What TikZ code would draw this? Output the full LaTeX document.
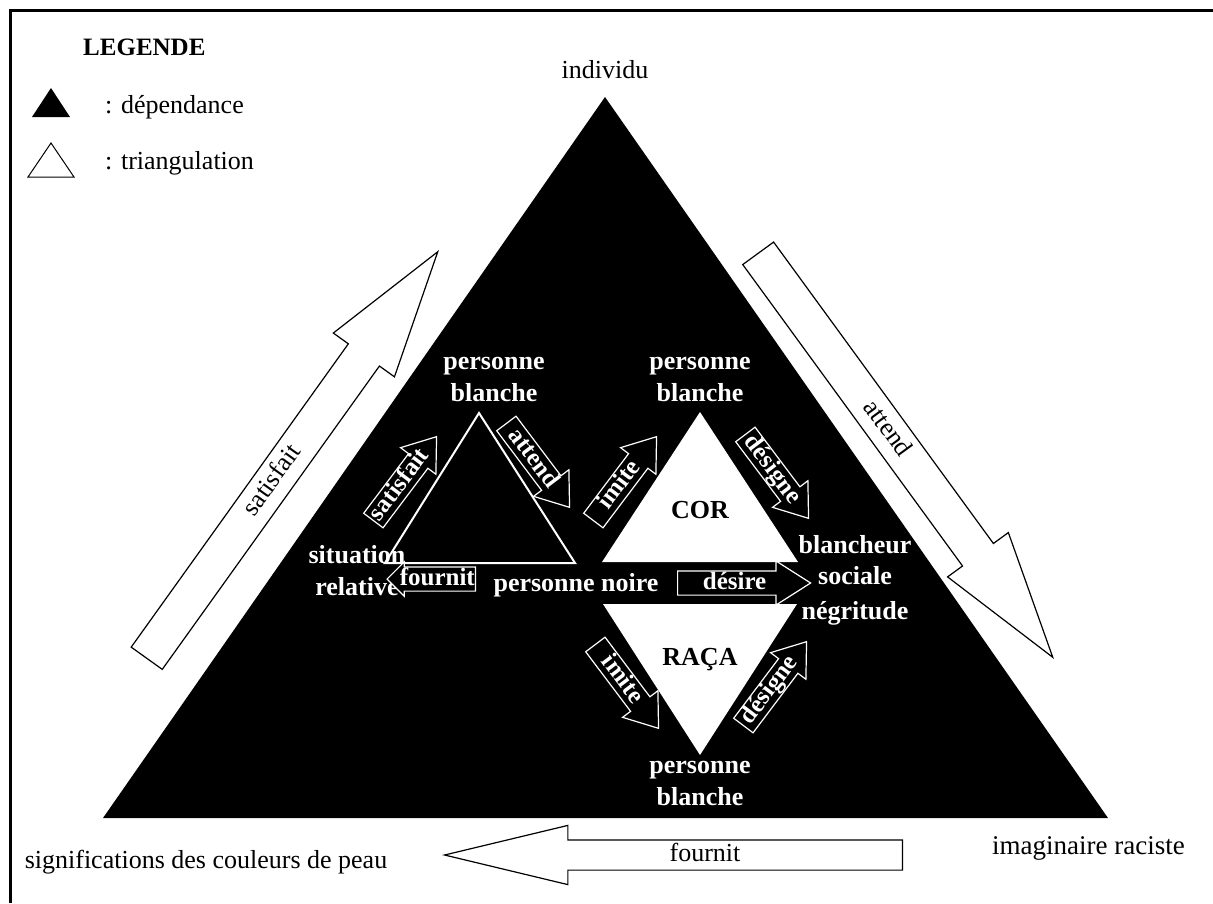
\documentclass[tikz,border=0pt]{standalone}
\usepackage{fontspec}
\setmainfont{Liberation Serif}
\usetikzlibrary{shapes}
\tikzstyle{bigarrow} = [single arrow, draw=black, fill=white, line width=1.2pt, minimum height=500pt, text height=17pt, text depth=5pt, inner ysep=7.5pt, inner xsep=0pt, single arrow head extend=18.5pt, single arrow tip angle=33, font=\fontsize{26}{30}\selectfont]
\tikzstyle{smallarrow} = [single arrow, draw=white, fill=black, text=white, line width=1.2pt, minimum height=105pt, text height=15pt, text depth=3pt, inner ysep=2.5pt, inner xsep=0pt, single arrow head extend=10pt, single arrow tip angle=72, font=\bfseries\fontsize{25}{30}\selectfont]
\tikzstyle{wlabel} = [text=white, align=center, inner sep=0pt, font=\bfseries\fontsize{26}{32}\selectfont]
\tikzstyle{blabel} = [text=black, inner sep=0pt, font=\bfseries\fontsize{26}{30}\selectfont]
\tikzstyle{txt} = [text=black, inner sep=0pt, font=\fontsize{26}{30}\selectfont]

\begin{document}
\begin{tikzpicture}[x=1pt, y=-1pt]
    \useasboundingbox (0,0) rectangle (1213,903);
    \draw[line width=3pt] (10,903) -- (10,10) -- (1213,10);

    % legende
    \node[blabel, anchor=west, font=\bfseries\fontsize{25}{30}\selectfont](legende) at (83,47) {LEGENDE};
    \fill (32,117) -- (51,88) -- (70,117) -- cycle;
    \draw[line width=1pt] (28,177) -- (51,143) -- (74,177) -- cycle;
    \node[txt, anchor=west](dependance) at (105,107) {: dépendance};
    \node[txt, anchor=west](triangulation) at (105,163) {: triangulation};

    % triangle de dependance
    \fill (605,97) -- (103,818) -- (1108,818) -- cycle;
    \node[txt](individu) at (605,70) {individu};
    \node[txt](significations) at (206,862) {significations des couleurs de peau};
    \node[txt, anchor=east, font=\fontsize{27}{30}\selectfont](imaginaire) at (1185,848) {imaginaire raciste};

    \node[bigarrow, rotate=54.4, anchor=tip](satisfait) at (439,250) {satisfait};
    \node[bigarrow, rotate=-53.9, anchor=tip](attend) at (1054,659) {attend};
    \node[bigarrow, shape border rotate=180, anchor=tip, minimum height=458pt, inner ysep=3.5pt, single arrow head extend=14.5pt, single arrow tip angle=27](fournit) at (442,855) {fournit};

    % triangulations
    \draw[white, line width=2pt] (479,413) -- (385,563) -- (575,563) -- cycle;
    \fill[white] (700,412) -- (602,562) -- (798,562) -- cycle;
    \fill[white] (603,604) -- (797,604) -- (700,755) -- cycle;

    \node[wlabel](blanche1) at (494,379) {personne\\blanche};
    \node[wlabel](blanche2) at (700,379) {personne\\blanche};
    \node[wlabel](blanche3) at (700,783) {personne\\blanche};
    \node[wlabel](situation) at (357,571) {situation\\relative};
    \node[wlabel](noire) at (576,585) {personne noire};
    \node[wlabel, font=\bfseries\fontsize{26}{31}\selectfont](blancheur) at (855,580) {blancheur\\sociale\\[4pt]négritude};
    \node[blabel](cor) at (700,510) {COR};
    \node[blabel](raca) at (700,660) {RAÇA};

    \node[smallarrow, rotate=53, anchor=tail](satisfait2) at (373,521) {satisfait};
    \node[smallarrow, rotate=-53, anchor=tail](attend2) at (506,423) {attend};
    \node[smallarrow, shape border rotate=180, anchor=tail, minimum height=74pt, single arrow head extend=5pt, single arrow tip angle=90](fournit2) at (476,579) {fournit};
    \node[smallarrow, rotate=53, anchor=tail](imite1) at (593,521) {imite};
    \node[smallarrow, rotate=-53, anchor=tail](designe1) at (745,434) {désigne};
    \node[smallarrow, rotate=-53, anchor=tail](imite2) at (595,644) {imite};
    \node[smallarrow, rotate=53, anchor=tail](designe2) at (743,726) {désigne};
    \node[smallarrow, anchor=tail, minimum height=133pt, single arrow tip angle=65](desire) at (677,583) {désire};
\end{tikzpicture}
\end{document}
